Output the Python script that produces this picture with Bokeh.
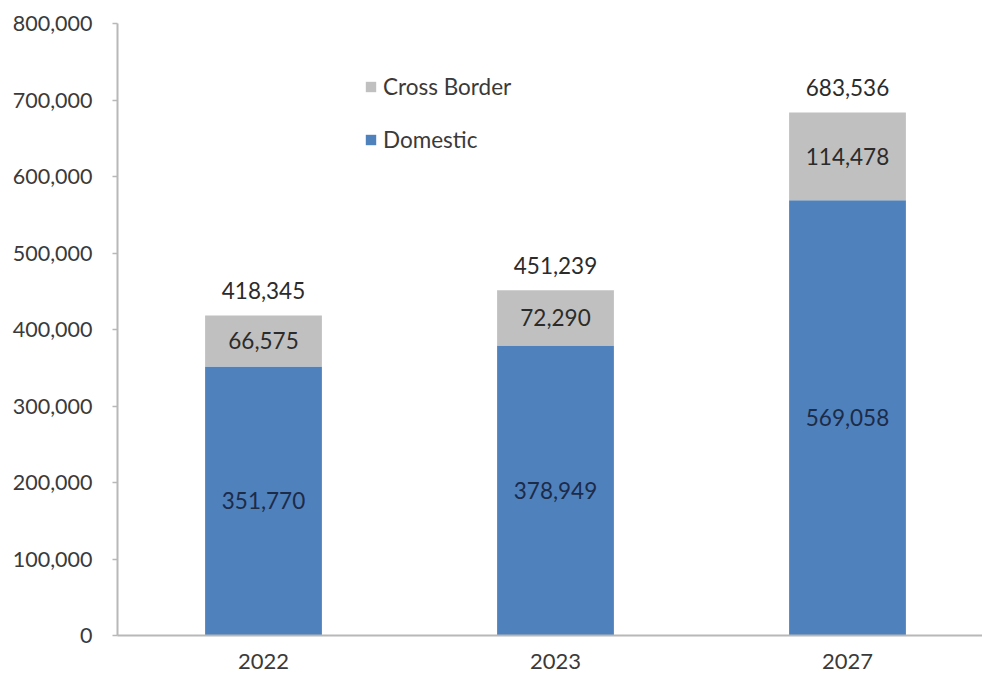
from bokeh.plotting import figure
from bokeh.models import (ColumnDataSource, Range1d, SingleIntervalTicker, FixedTicker,
                          NumeralTickFormatter, Legend, LegendItem)
from bokeh.core.properties import value
from bokeh.embed import file_html
from bokeh.resources import INLINE

# ---- data ----
years = ["2022", "2023", "2027"]
domestic = [351770, 378949, 569058]
cross_border = [66575, 72290, 114478]
totals = [418345, 451239, 683536]

FONT = "Lato"
BLUE = "#4f81bd"
GRAY = "#c0c0c0"

xs = [i + 0.5 for i in range(len(years))]
src = ColumnDataSource(dict(
    x=xs,
    year=years,
    dom=domestic,
    cb=cross_border,
    tot=totals,
    dom_mid=[d / 2 for d in domestic],
    cb_mid=[d + c / 2 for d, c in zip(domestic, cross_border)],
    dom_lbl=["{:,}".format(v) for v in domestic],
    cb_lbl=["{:,}".format(v) for v in cross_border],
    tot_lbl=["{:,}".format(v) for v in totals],
))

p = figure(width=982, height=680, output_backend="svg", toolbar_location=None,
           x_range=Range1d(0, 865 / 292), y_range=Range1d(0, 800000),
           min_border_left=117, min_border_right=0, min_border_top=23, min_border_bottom=45)
p.outline_line_color = None
p.xgrid.visible = False
p.ygrid.visible = False
p.background_fill_color = "white"

r_dom = p.vbar(x="x", width=0.4, bottom=0, top="dom", source=src,
               fill_color=BLUE, line_color=None)
r_cb = p.vbar(x="x", width=0.4, bottom="dom", top="tot", source=src,
              fill_color=GRAY, line_color=None)

lbl_kw = dict(source=src, text_font=value(FONT), text_font_size="22.5px",
              text_align="center", text_baseline="middle")
p.text(x="x", y="dom_mid", text="dom_lbl", text_color="#1c2b48", **lbl_kw)
p.text(x="x", y="cb_mid", text="cb_lbl", text_color="#2b2b2b", **lbl_kw)
p.text(x="x", y="tot", text="tot_lbl", text_color="#2b2b2b", y_offset=-25, **lbl_kw)

# axes
ya = p.yaxis[0]
ya.ticker = SingleIntervalTicker(interval=100000)
ya.formatter = NumeralTickFormatter(format="0,0")
ya.major_label_text_font = FONT
ya.major_label_text_font_size = "21.5px"
ya.major_label_text_color = "#3a3a3a"
ya.axis_line_color = "#b8b8b8"
ya.axis_line_width = 2
ya.major_tick_line_color = "#b8b8b8"
ya.major_tick_line_width = 1.5
ya.major_tick_out = 5
ya.major_tick_in = 0
ya.minor_tick_line_color = None
ya.major_label_standoff = 20

xa = p.xaxis[0]
xa.ticker = FixedTicker(ticks=xs)
xa.major_label_overrides = {x: y for x, y in zip(xs, years)}
xa.major_label_text_font = FONT
xa.major_label_text_font_size = "22px"
xa.major_label_text_color = "#3a3a3a"
xa.axis_line_color = "#b8b8b8"
xa.axis_line_width = 2
xa.major_tick_line_color = None
xa.minor_tick_line_color = None
xa.major_label_standoff = 12

legend = Legend(items=[LegendItem(label="Cross Border", renderers=[r_cb]),
                       LegendItem(label="Domestic", renderers=[r_dom])],
                location=(247, 482), orientation="vertical",
                glyph_width=13, glyph_height=13, label_height=20,
                label_standoff=6, spacing=26, padding=0, margin=0,
                border_line_color=None, background_fill_alpha=0,
                label_text_font=FONT, label_text_font_size="22.5px",
                label_text_color="#3a3a3a")
p.add_layout(legend, "center")

open("out.html", "w").write(file_html(p, INLINE))
